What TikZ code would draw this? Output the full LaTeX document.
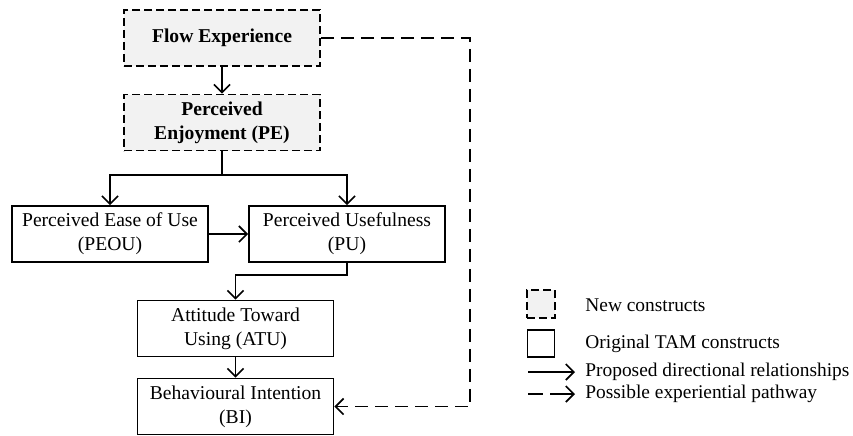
\documentclass[tikz,border=0pt]{standalone}
\usepackage{fontspec}
\setmainfont{Liberation Serif}
\usetikzlibrary{arrows.meta,positioning}
\definecolor{newfill}{HTML}{F2F2F2}
\tikzset{
  box/.style={draw, line width=0.85pt, minimum width=98pt, minimum height=28pt, inner sep=1pt, align=center, font=\fontsize{9.8}{12}\selectfont},
  newbox/.style={box, fill=newfill, dash pattern=on 4pt off 2pt, font=\fontsize{9.8}{12}\selectfont\bfseries},
  arr/.style={line width=0.85pt, -{Straight Barb[length=4pt,width=8pt,line width=0.85pt]}},
  dasharr/.style={arr, dash pattern=on 6.5pt off 3.5pt},
  legdash/.style={arr, dash pattern=on 7.5pt off 3.5pt on 14pt off 3.5pt},
  legtxt/.style={anchor=west, inner sep=0pt, font=\fontsize{9.7}{12}\selectfont},
}
\begin{document}
\begin{tikzpicture}[x=0.5pt,y=-0.5pt]
\useasboundingbox (0,0) rectangle (853,435);
\node[newbox] (fe) at (222,38) {Flow Experience};
\node[newbox] (pe) at (222,122.5) {Perceived\\Enjoyment (PE)};
\node[box] (peou) at (110,234) {Perceived Ease of Use\\(PEOU)};
\node[box] (pu) at (347,234) {Perceived Usefulness\\(PU)};
\node[box] (atu) at (235.5,328.5) {Attitude Toward\\Using (ATU)};
\node[box] (bi) at (235.5,406.5) {Behavioural Intention\\(BI)};
\coordinate (split) at (222,175);
\coordinate (xr) at (470,0);
\draw[arr] (fe.south) -- (pe.north);
\draw[arr] (pe.south) -- (split) -| (peou.north);
\draw[arr] (split) -| (pu.north);
\draw[arr] (peou.east) -- (pu.west);
\draw[arr] (pu.south) -- ++(0,12) -| (atu.north);
\draw[arr] (atu.south) -- (bi.north);
\draw[dasharr] (fe.east) -- (fe.east -| xr) -- (xr |- bi.east) -- (bi.east);
% legend
\node[draw, fill=newfill, line width=0.85pt, dash pattern=on 4pt off 2pt, minimum size=14pt, inner sep=0pt] (lnew) at (541,304) {};
\node[draw, line width=0.85pt, minimum size=13.5pt, inner sep=0pt] (lorig) at (541,343.5) {};
\node[legtxt] (tnew) at (585,305) {New constructs};
\node[legtxt] (torig) at (585,344) {Original TAM constructs};
\node[legtxt] (tprop) at (585,372) {Proposed directional relationships};
\node[legtxt] (tposs) at (585,394) {Possible experiential pathway};
\coordinate (ls1) at (528,372);
\coordinate (ls2) at (528,394);
\coordinate (le1) at (575,372);
\coordinate (le2) at (575,394);
\draw[arr] (ls1) -- (le1);
\draw[legdash] (ls2) -- (le2);
\end{tikzpicture}
\end{document}
